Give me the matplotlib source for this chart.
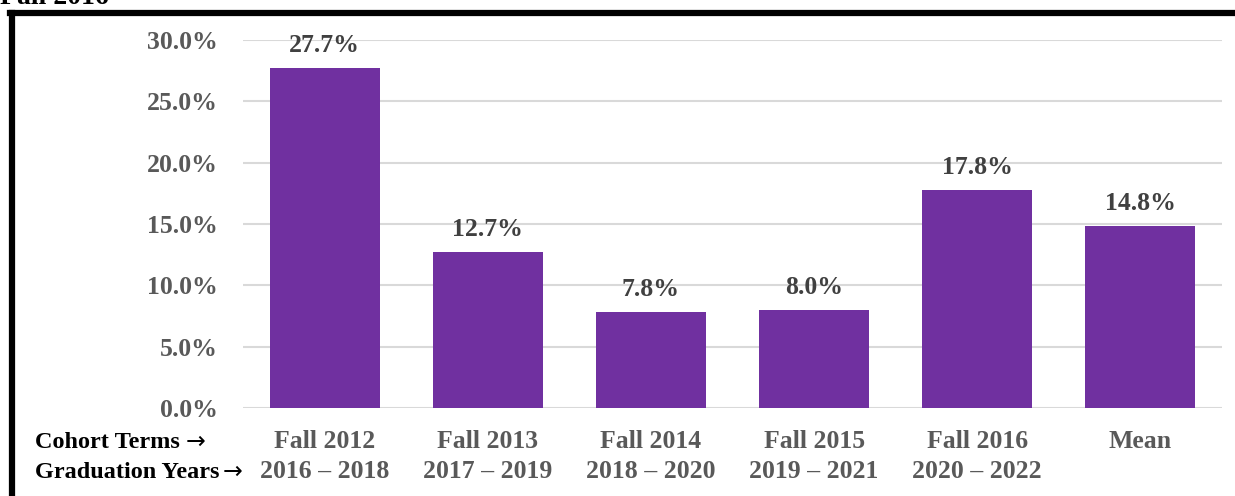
import matplotlib.pyplot as plt
from matplotlib.lines import Line2D

cohorts = ['Fall 2012', 'Fall 2013', 'Fall 2014', 'Fall 2015', 'Fall 2016', 'Mean']
grad_years = ['2016 \u2013 2018', '2017 \u2013 2019', '2018 \u2013 2020', '2019 \u2013 2021', '2020 \u2013 2022', '']
rates = [27.7, 12.7, 7.8, 8.0, 17.8, 14.8]
yticks = [0, 5, 10, 15, 20, 25, 30]

plt.rcParams['font.family'] = ['Liberation Serif', 'DejaVu Serif']
plt.rcParams['font.weight'] = 'bold'

W, H = 1235, 496
fig = plt.figure(figsize=(W / 100, H / 100), dpi=100)
ax = fig.add_axes([243 / W, 1 - 408 / H, (1222 - 243) / W, (408 - 40) / H])

x = range(len(cohorts))
ax.bar(x, rates, width=0.675, color='#7030A0', zorder=3)
for i, v in zip(x, rates):
    ax.annotate(f'{v:.1f}%', (i, v), xytext=(0, 8), textcoords='offset points',
                ha='center', va='bottom', fontsize=18.5, fontweight='bold', color='#404040')

ax.set_xlim(-0.5, len(cohorts) - 0.5)
ax.set_ylim(0, 30)
ax.set_yticks(yticks)
ax.set_yticklabels([f'{t:.1f}%' for t in yticks])
ax.yaxis.grid(True, color='#d9d9d9', linewidth=1.5, zorder=0)
for s in ax.spines.values():
    s.set_visible(False)
ax.tick_params(axis='y', length=0, pad=18, labelsize=18.5, labelcolor='#595959')
ax.tick_params(axis='x', length=0, pad=16, labelsize=18.5, labelcolor='#595959')
ax.set_xticks(list(x))
ax.set_xticklabels([c + '\n' + g if g else c for c, g in zip(cohorts, grad_years)],
                   linespacing=1.38, va='top')

fig.text(35 / W, 1 - 442 / H, 'Cohort Terms', fontsize=17.5, fontweight='bold',
         color='black', ha='left', va='center')
fig.text(35 / W, 1 - 472 / H, 'Graduation Years', fontsize=17.5, fontweight='bold',
         color='black', ha='left', va='center')
fig.text(186 / W, 1 - 442 / H, '\u2192', fontsize=17, color='black', ha='left', va='center',
         family='DejaVu Sans', fontweight='normal')
fig.text(223 / W, 1 - 472 / H, '\u2192', fontsize=17, color='black', ha='left', va='center',
         family='DejaVu Sans', fontweight='normal')

# title above the frame, cut off by the top edge like in the source
fig.text(0, 1 - 4 / H, 'Fall 2016', fontsize=20, fontweight='bold', color='black',
         ha='left', va='baseline')

# thick black frame (top and left edges visible)
fig.add_artist(Line2D([10 / W, 1.01], [1 - 12.5 / H, 1 - 12.5 / H], transform=fig.transFigure,
                      color='black', linewidth=4.5, solid_capstyle='projecting'))
fig.add_artist(Line2D([12 / W, 12 / W], [1 - 12.5 / H, -0.01], transform=fig.transFigure,
                      color='black', linewidth=4.5, solid_capstyle='projecting'))

fig.savefig('out.png', dpi=100)
